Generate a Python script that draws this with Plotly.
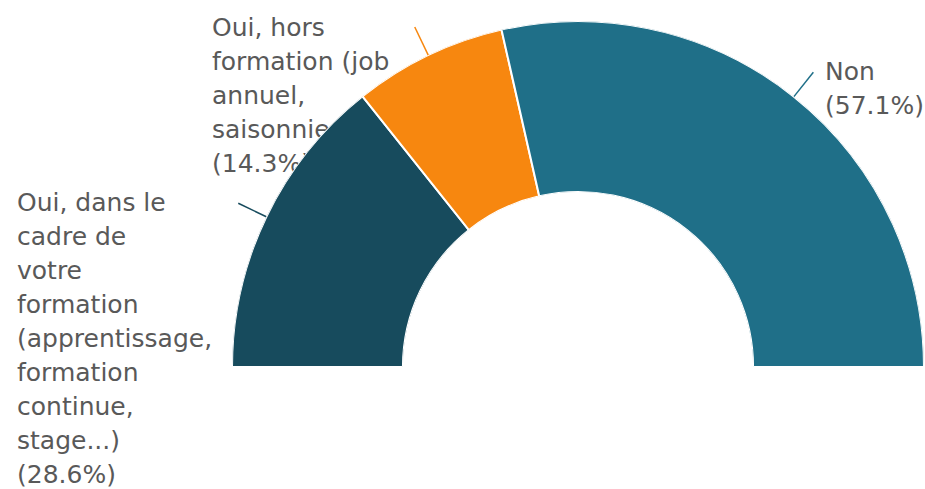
import numpy as np
import plotly.graph_objects as go

# ---- data ----
categories = [
    "Oui, dans le cadre de votre formation (apprentissage, formation continue, stage...)",
    "Oui, hors formation (job annuel, saisonnier...)",
    "Non",
]
percent = [28.6, 14.3, 57.1]
colors = ["#174B5D", "#F7870F", "#1F6F88"]
label_lines = [
    ["Oui, dans le", "cadre de", "votre", "formation", "(apprentissage,",
     "formation", "continue,", "stage...)", "(28.6%)"],
    ["Oui, hors", "formation (job", "annuel,", "saisonnier...)", "(14.3%)"],
    ["Non", "(57.1%)"],
]

# ---- layout (screen pixel positions) ----
W, H = 925, 489
label_anchor = [(17, 205), (212, 30), (825, 74)]
line_pitch = 34
text_color = "#595959"
font_family = "DejaVu Sans"
font_size = 25
# donut geometry in screen pixels
CX, CY, R = 578, 367, 346
leader_r = (1.0, 1.09)

pct = np.array(percent, dtype=float)
widths = pct / pct.sum() * 180.0
ends = np.cumsum(widths)
centers = ends - widths / 2

fig = go.Figure()

# label texts on a hidden cartesian layer (drawn below the polar layer)
for lines, (x0, y0) in zip(label_lines, label_anchor):
    fig.add_trace(go.Scatter(
        x=[x0] * len(lines),
        y=[y0 + i * line_pitch for i in range(len(lines))],
        text=lines, mode="text", textposition="middle right",
        textfont=dict(family=font_family, size=font_size, color=text_color),
        hoverinfo="skip", showlegend=False, cliponaxis=False,
    ))

# leader lines from slice mid-angles
for c, col in zip(centers, colors):
    ang = np.deg2rad(180.0 - c)
    rr = np.array(leader_r) * R
    fig.add_trace(go.Scatter(
        x=CX + rr * np.cos(ang), y=CY - rr * np.sin(ang), mode="lines",
        line=dict(color=col, width=1.5), hoverinfo="skip", showlegend=False,
        cliponaxis=False,
    ))

# half donut
fig.add_trace(go.Barpolar(
    r=[1] * len(pct), theta=centers, width=widths,
    marker=dict(color=colors, line=dict(color="white", width=2)),
    text=categories, hoverinfo="text", showlegend=False,
))

fig.update_layout(
    width=W, height=H,
    margin=dict(l=0, r=0, t=0, b=0),
    paper_bgcolor="white", plot_bgcolor="rgba(0,0,0,0)",
    xaxis=dict(range=[0, W], visible=False, domain=[0, 1], fixedrange=True),
    yaxis=dict(range=[H, 0], visible=False, domain=[0, 1], fixedrange=True),
    polar=dict(
        domain=dict(x=[(CX - R) / W, min(1.0, (CX + R) / W)],
                    y=[(H - CY) / H, (H - CY + R) / H]),
        sector=[0, 180], hole=0.506, bargap=0,
        bgcolor="rgba(0,0,0,0)",
        angularaxis=dict(direction="clockwise", rotation=180, visible=False,
                         showgrid=False, showline=False),
        radialaxis=dict(range=[0, 1], visible=False, showgrid=False, showline=False),
    ),
)

fig.write_html(
    "out.html",
    config={"displayModeBar": False},
    post_script="document.body.style.margin='0';document.body.style.overflow='hidden';",
)
